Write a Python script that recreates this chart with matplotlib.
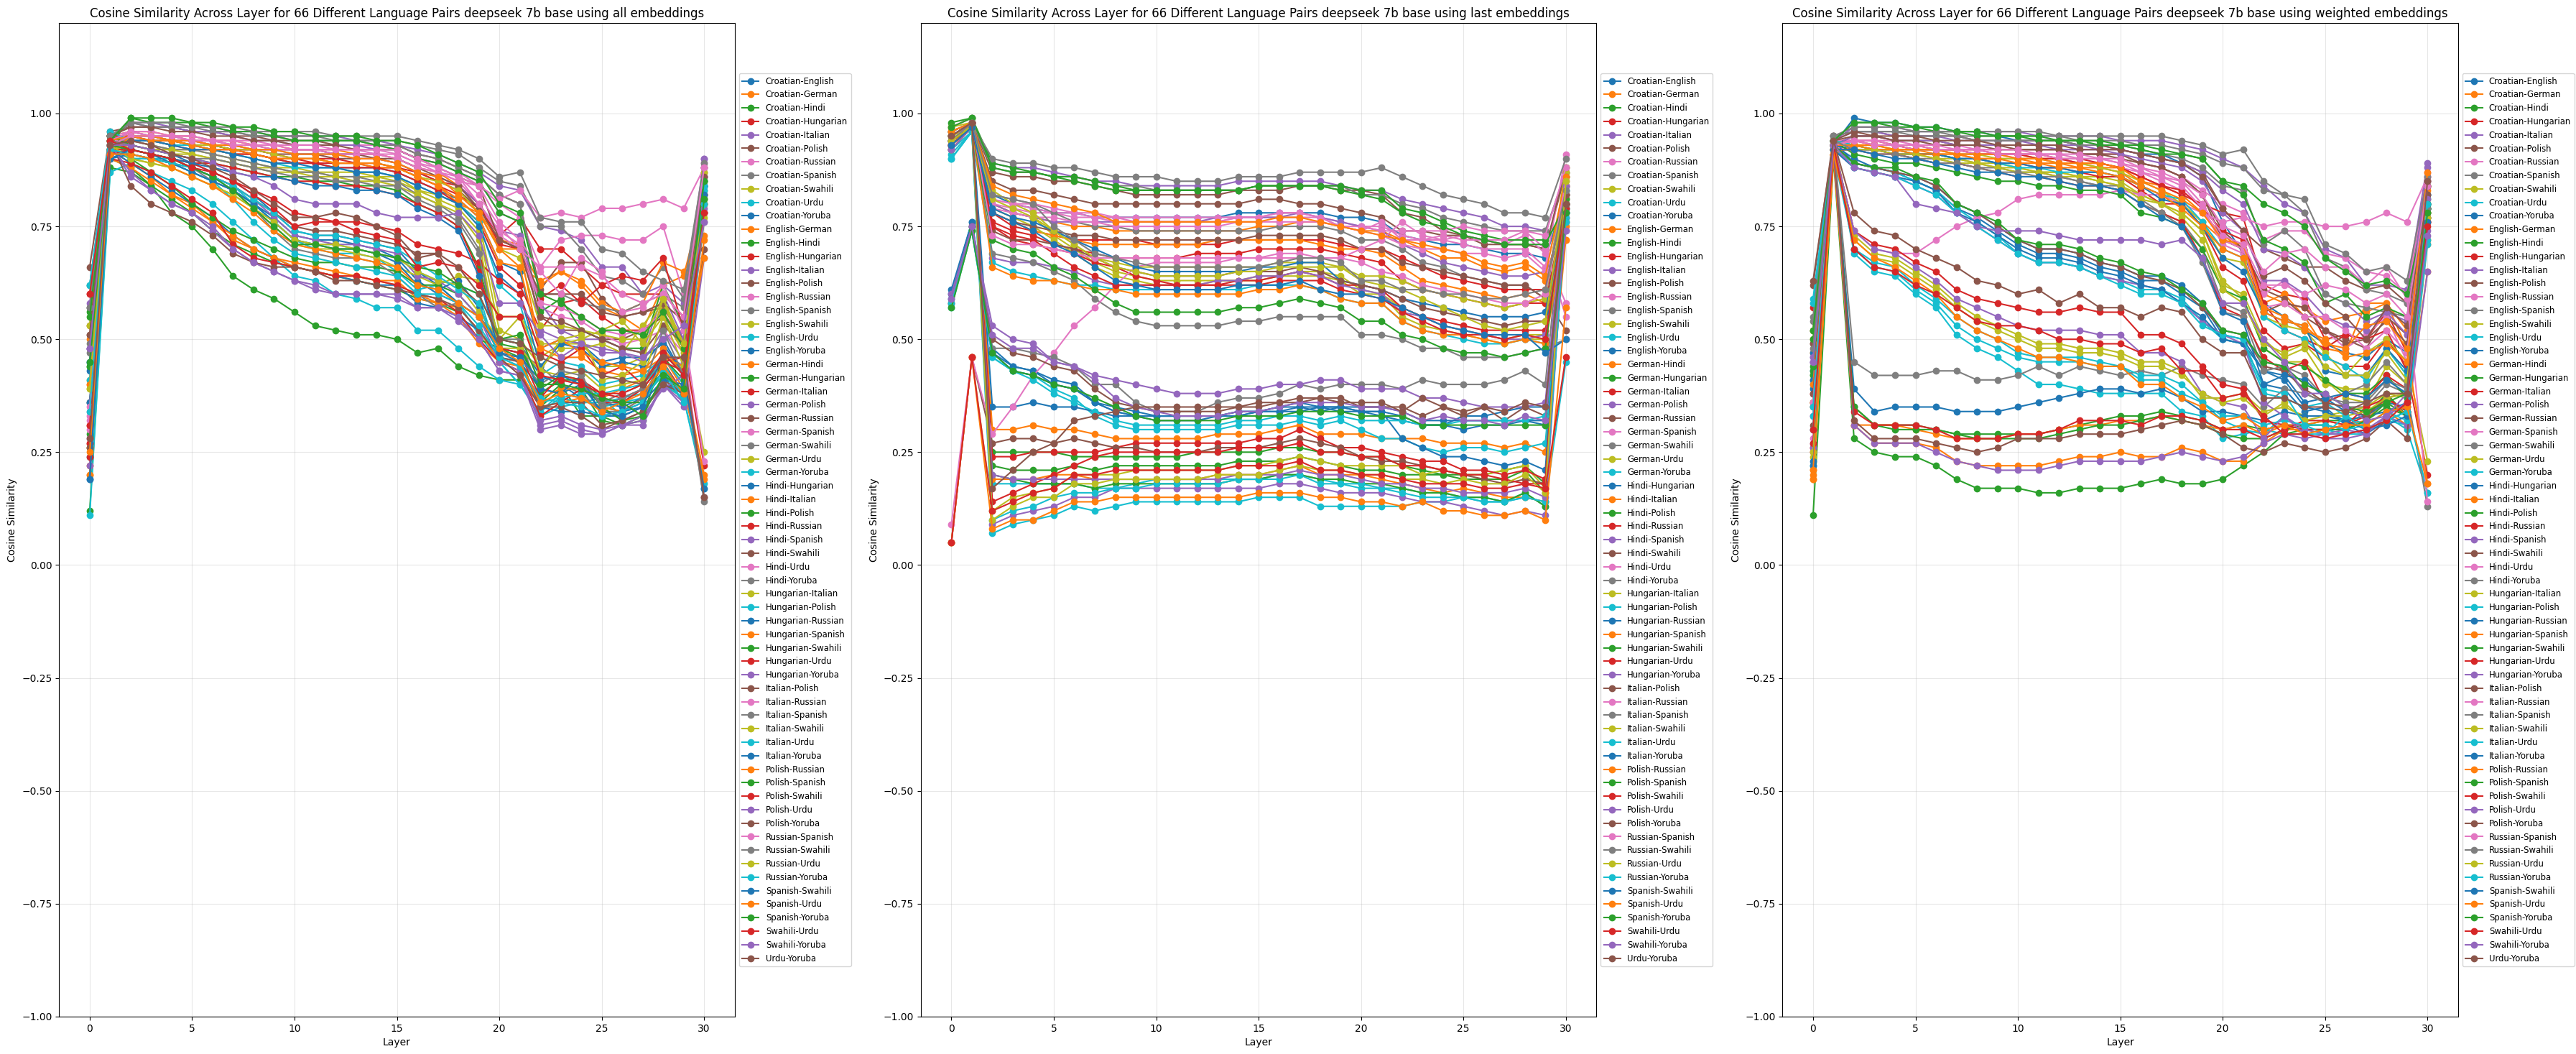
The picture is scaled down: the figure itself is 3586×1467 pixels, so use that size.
import itertools

import numpy as np
import matplotlib
matplotlib.use('Agg')
import matplotlib.pyplot as plt


LANGUAGES = ['Croatian', 'English', 'German', 'Hindi', 'Hungarian', 'Italian',
             'Polish', 'Russian', 'Spanish', 'Swahili', 'Urdu', 'Yoruba']
PAIRS = [f'{a}-{b}' for a, b in itertools.combinations(LANGUAGES, 2)]
LAYERS = list(range(31))
EMBEDDINGS = ['all', 'last', 'weighted']

# cosine similarity x100, one row per pair (same order as PAIRS)
# layout of a row:  L0 L1 | L2..L10 | L11..L20 | L21..L30
SIM_ALL = [
    "45 94 | 95 95 94 93 93 92 91 90 89 | 89 88 88 88 87 85 83 81 77 67 | 65 48 50 49 45 46 46 49 42 86",  # Croatian-English
    "50 95 | 96 96 95 95 94 94 93 93 92 | 92 92 91 91 90 88 87 84 80 70 | 66 63 65 62 57 55 52 62 64 82",  # Croatian-German
    "12 88 | 87 84 78 75 70 64 61 59 56 | 53 52 51 51 50 47 48 44 42 41 | 41 36 40 33 33 31 33 42 38 84",  # Croatian-Hindi
    "31 92 | 95 94 94 93 92 92 91 90 90 | 89 89 89 88 88 86 84 82 79 73 | 77 70 70 66 62 60 60 60 55 87",  # Croatian-Hungarian
    "58 95 | 98 98 97 97 97 96 96 95 95 | 95 95 94 94 93 92 91 89 87 84 | 83 75 74 72 66 66 60 62 58 90",  # Croatian-Italian
    "66 96 | 97 97 97 96 96 95 95 94 94 | 94 93 93 93 93 91 90 88 86 82 | 80 61 67 67 59 55 56 57 50 88",  # Croatian-Polish
    "53 95 | 96 96 95 95 94 94 94 93 93 | 93 93 93 93 92 90 89 87 84 80 | 77 66 72 73 73 72 72 75 60 89",  # Croatian-Russian
    "62 95 | 97 97 97 96 96 96 95 95 95 | 95 94 94 94 94 93 92 91 88 85 | 84 75 75 70 64 63 60 66 59 88",  # Croatian-Spanish
    "53 95 | 94 93 92 92 91 90 89 88 88 | 87 87 87 86 86 83 82 80 76 55 | 55 46 49 49 44 44 46 58 48 25",  # Croatian-Swahili
    "62 95 | 90 90 90 88 86 83 80 76 72 | 70 69 69 68 65 61 62 58 51 45 | 40 34 38 37 35 36 37 42 36 78",  # Croatian-Urdu
    "36 93 | 93 92 91 89 87 85 82 78 74 | 73 73 72 71 70 65 62 58 55 50 | 49 42 40 37 35 34 35 40 39 85",  # Croatian-Yoruba
    "20 91 | 94 94 93 93 92 91 91 90 90 | 90 89 89 88 88 86 84 80 78 72 | 71 62 65 63 58 56 58 67 65 73",  # English-German
    "29 90 | 88 84 81 78 74 71 69 67 66 | 65 64 63 62 61 59 58 56 50 48 | 46 35 39 39 32 31 32 40 37 85",  # English-Hindi
    "27 92 | 94 94 93 92 92 91 91 90 89 | 89 88 88 88 87 85 83 80 76 66 | 62 52 58 59 55 52 52 56 49 22",  # English-Hungarian
    "48 94 | 98 97 97 96 96 95 94 94 93 | 93 93 93 92 92 90 89 87 85 78 | 76 52 50 49 48 47 45 52 45 84",  # English-Italian
    "26 92 | 95 94 94 93 93 92 92 91 91 | 91 90 90 90 89 87 85 83 79 72 | 70 55 52 52 50 50 52 55 50 82",  # English-Polish
    "30 92 | 95 95 94 94 93 93 92 92 92 | 92 91 91 91 90 88 87 85 80 73 | 70 57 55 54 51 49 50 52 47 86",  # English-Russian
    "49 94 | 98 97 97 97 96 96 95 95 94 | 94 94 94 93 93 91 90 88 86 82 | 80 60 60 58 57 56 58 60 57 86",  # English-Spanish
    "41 93 | 93 92 91 91 90 89 88 88 87 | 87 86 86 86 85 83 81 79 74 52 | 50 44 48 48 49 47 53 59 46 80",  # English-Swahili
    "11 87 | 89 87 85 83 80 76 72 68 64 | 63 60 59 57 57 52 52 48 44 41 | 40 33 35 36 37 33 35 40 37 17",  # English-Urdu
    "43 93 | 92 91 89 87 85 83 80 77 73 | 72 72 71 70 68 63 60 58 55 47 | 45 39 38 40 36 35 37 43 38 84",  # English-Yoruba
    "40 92 | 89 86 82 80 76 72 70 68 67 | 66 65 64 63 62 60 58 57 52 45 | 43 35 36 37 35 34 37 44 37 80",  # German-Hindi
    "44 93 | 99 98 98 98 97 96 96 95 94 | 94 94 94 93 92 90 89 87 85 78 | 76 56 59 52 50 48 48 62 53 83",  # German-Hungarian
    "60 95 | 95 95 94 94 93 92 92 91 90 | 90 90 89 89 88 87 85 84 80 71 | 70 59 62 58 62 64 63 68 52 78",  # German-Italian
    "28 92 | 95 95 94 94 93 93 92 92 91 | 91 91 90 90 89 87 86 84 80 74 | 73 58 52 50 50 48 47 60 50 85",  # German-Polish
    "36 93 | 96 95 95 94 94 93 93 92 92 | 92 91 91 90 90 88 86 84 79 72 | 70 60 60 60 56 55 56 58 54 84",  # German-Russian
    "32 93 | 96 95 95 94 94 93 93 92 92 | 92 92 92 91 91 89 87 86 80 74 | 71 58 57 55 52 51 52 56 48 15",  # German-Spanish
    "57 95 | 94 93 92 92 91 90 89 88 87 | 87 86 86 85 85 82 80 77 70 48 | 47 44 40 38 34 34 37 46 40 76",  # German-Swahili
    "53 94 | 90 89 88 86 84 82 79 75 71 | 70 70 69 68 66 64 62 64 63 55 | 55 49 49 50 52 54 49 55 47 81",  # German-Urdu
    "24 91 | 91 90 89 88 86 84 80 76 72 | 71 71 70 69 68 65 63 62 60 45 | 40 34 37 36 36 37 38 44 37 18",  # German-Yoruba
    "45 92 | 89 86 83 80 77 73 70 68 66 | 65 64 63 62 62 58 57 55 52 46 | 45 35 34 34 33 33 35 40 38 84",  # Hindi-Hungarian
    "20 90 | 88 85 82 79 76 73 70 68 66 | 65 64 64 63 63 59 58 55 49 45 | 44 37 39 39 37 39 41 46 39 19",  # Hindi-Italian
    "44 92 | 90 87 84 80 77 74 72 70 68 | 67 67 66 66 65 62 62 60 55 49 | 48 39 42 41 37 36 36 43 38 85",  # Hindi-Polish
    "27 90 | 89 87 84 81 78 71 68 67 66 | 65 64 64 63 62 60 59 56 50 45 | 43 33 36 39 36 36 39 45 38 82",  # Hindi-Russian
    "48 93 | 86 83 80 78 74 70 67 65 63 | 62 60 60 60 60 57 57 55 50 43 | 42 30 31 29 29 31 31 40 35 68",  # Hindi-Spanish
    "51 94 | 84 80 78 76 73 69 67 66 66 | 65 63 63 62 61 60 59 57 52 46 | 45 35 35 33 30 32 34 41 38 70",  # Hindi-Swahili
    "33 93 | 95 95 94 94 93 93 92 92 92 | 92 91 91 91 90 88 87 85 84 81 | 83 77 78 77 79 79 80 81 79 88",  # Hindi-Urdu
    "57 94 | 92 91 90 88 85 83 79 74 70 | 69 68 68 67 64 60 57 58 55 50 | 50 38 41 40 36 38 40 47 44 14",  # Hindi-Yoruba
    "39 93 | 95 95 94 93 93 92 92 91 90 | 90 89 89 89 88 86 85 83 78 70 | 68 53 53 52 51 50 50 59 48 87",  # Hungarian-Italian
    "62 96 | 94 94 93 93 92 91 90 89 88 | 88 88 87 87 86 84 82 80 76 62 | 58 42 45 44 40 41 42 46 40 83",  # Hungarian-Polish
    "36 93 | 94 94 93 92 92 91 90 89 89 | 88 88 87 87 86 84 82 80 75 64 | 60 44 49 48 44 45 44 50 42 84",  # Hungarian-Russian
    "22 91 | 95 94 94 93 92 92 91 90 90 | 90 89 89 89 88 86 84 81 77 67 | 66 48 46 46 43 42 43 46 44 68",  # Hungarian-Spanish
    "56 95 | 93 92 91 90 89 88 87 86 86 | 85 85 84 84 83 80 78 75 66 50 | 49 38 41 41 35 32 33 46 41 81",  # Hungarian-Swahili
    "31 92 | 92 91 90 89 87 85 83 81 78 | 77 76 76 75 74 71 70 69 67 63 | 60 47 45 48 42 44 40 45 46 78",  # Hungarian-Urdu
    "22 91 | 92 91 90 88 86 84 81 77 73 | 72 71 71 70 69 64 63 60 55 45 | 43 31 32 30 29 31 33 39 42 90",  # Hungarian-Yoruba
    "51 95 | 97 97 96 96 95 95 94 94 93 | 93 93 92 92 92 90 88 86 84 72 | 70 55 54 52 50 48 47 53 49 86",  # Italian-Polish
    "35 94 | 96 95 95 95 94 94 93 93 93 | 93 92 92 92 92 90 88 86 84 76 | 72 65 60 68 65 56 57 62 52 23",  # Italian-Russian
    "57 95 | 98 98 98 97 97 97 96 96 96 | 96 95 95 95 95 94 93 92 90 86 | 87 77 76 76 70 69 65 63 61 89",  # Italian-Spanish
    "26 92 | 93 92 92 91 90 89 88 87 87 | 86 86 85 85 84 82 80 78 72 48 | 48 43 42 43 39 40 41 55 44 77",  # Italian-Swahili
    "41 92 | 90 90 89 87 85 81 76 72 69 | 68 67 66 65 64 60 60 58 53 46 | 44 36 37 38 38 39 40 45 37 84",  # Italian-Urdu
    "19 90 | 91 90 89 87 85 83 80 76 72 | 71 70 70 69 67 62 61 63 57 48 | 47 39 38 42 33 34 36 41 40 82",  # Italian-Yoruba
    "40 94 | 95 95 94 94 93 93 92 92 91 | 91 91 90 90 89 87 86 82 78 70 | 70 48 50 47 45 44 43 48 42 20",  # Polish-Russian
    "55 94 | 99 99 99 98 98 97 97 96 96 | 95 95 95 94 94 93 91 89 87 80 | 78 60 58 55 52 52 51 56 48 85",  # Polish-Spanish
    "24 91 | 92 91 90 89 89 88 87 86 85 | 85 84 84 83 82 80 78 75 65 48 | 47 37 42 41 38 37 39 45 43 80",  # Polish-Swahili
    "48 93 | 87 83 80 78 75 70 67 65 63 | 61 60 60 60 59 57 57 54 50 43 | 42 32 33 31 30 31 32 40 36 79",  # Polish-Urdu
    "26 92 | 91 90 89 88 86 84 81 78 75 | 74 74 73 72 71 69 69 62 58 46 | 42 35 36 36 31 32 34 40 38 80",  # Polish-Yoruba
    "34 93 | 95 95 95 94 94 93 93 93 92 | 92 92 92 92 91 89 88 86 82 75 | 70 66 66 66 64 60 58 60 55 88",  # Russian-Spanish
    "47 94 | 93 92 91 90 90 89 88 87 86 | 86 85 85 84 84 81 79 76 69 47 | 46 40 43 42 35 37 39 52 42 15",  # Russian-Swahili
    "39 93 | 90 89 88 86 84 82 79 76 72 | 71 71 70 69 68 65 63 62 56 50 | 55 43 50 51 41 42 45 59 49 80",  # Russian-Urdu
    "34 92 | 91 90 89 88 86 84 81 78 74 | 73 73 72 71 70 67 64 61 58 46 | 44 37 36 35 33 34 36 43 36 80",  # Russian-Yoruba
    "19 90 | 92 91 90 89 88 87 86 86 85 | 84 84 83 83 82 79 77 74 64 47 | 46 41 42 40 34 33 35 47 42 17",  # Spanish-Swahili
    "25 91 | 91 90 88 86 84 81 78 74 71 | 70 69 68 67 66 62 61 58 55 48 | 45 36 38 37 34 36 38 44 38 72",  # Spanish-Urdu
    "45 93 | 92 91 90 88 86 83 79 75 71 | 71 70 70 69 68 66 65 62 60 50 | 51 40 40 39 37 36 33 42 39 81",  # Spanish-Yoruba
    "60 94 | 92 91 90 88 87 85 82 79 75 | 76 76 74 73 72 66 67 66 62 55 | 55 42 41 40 38 38 40 47 42 78",  # Swahili-Urdu
    "48 93 | 93 92 91 90 89 87 86 84 81 | 80 80 80 78 77 77 77 78 73 58 | 58 51 46 49 47 47 46 50 53 76",  # Swahili-Yoruba
    "28 93 | 94 93 91 90 88 86 83 80 77 | 77 78 77 75 73 68 69 66 60 50 | 49 46 44 43 42 41 40 46 46 15",  # Urdu-Yoruba
]

SIM_LAST = [
    "96 98 | 82 80 79 78 78 77 77 77 77 | 77 77 77 78 78 78 78 78 77 77 | 76 73 72 71 71 70 69 69 68 82",  # Croatian-English
    "95 98 | 80 78 77 76 75 75 74 74 74 | 74 74 74 74 75 75 76 76 75 74 | 74 72 70 68 68 66 65 66 63 80",  # Croatian-German
    "96 98 | 25 25 25 25 24 24 24 24 24 | 24 25 25 25 25 26 26 25 25 24 | 24 22 21 20 20 20 21 22 18 80",  # Croatian-Hindi
    "95 98 | 78 75 74 73 72 72 72 72 71 | 71 71 71 72 72 72 72 72 71 70 | 70 68 66 64 63 62 61 61 61 84",  # Croatian-Hungarian
    "93 98 | 89 88 88 87 86 85 85 84 84 | 84 84 84 85 85 85 85 85 84 83 | 83 81 80 79 78 77 75 75 74 86",  # Croatian-Italian
    "96 98 | 87 86 86 85 85 84 83 82 82 | 82 82 82 83 83 83 84 84 83 83 | 82 78 77 74 73 72 71 71 70 87",  # Croatian-Polish
    "97 99 | 81 80 79 78 78 77 77 76 76 | 76 76 76 77 77 77 77 77 76 75 | 75 73 72 72 71 70 70 70 66 91",  # Croatian-Russian
    "96 98 | 88 87 87 86 86 85 84 84 83 | 83 83 83 83 84 84 84 84 84 82 | 82 80 79 77 76 75 74 74 74 87",  # Croatian-Spanish
    "96 98 | 80 78 77 73 70 67 65 64 63 | 63 63 63 63 64 64 65 65 64 61 | 60 57 55 53 52 51 50 51 51 87",  # Croatian-Swahili
    "91 96 | 07 09 10 11 13 12 13 14 14 | 14 14 14 14 15 15 15 13 13 13 | 13 13 14 14 15 14 14 15 14 45",  # Croatian-Urdu
    "61 76 | 48 44 43 41 40 36 34 33 33 | 33 33 33 34 34 35 36 35 35 35 | 35 34 32 32 32 32 32 32 32 81",  # Croatian-Yoruba
    "93 98 | 78 76 74 73 72 71 71 71 71 | 71 71 72 72 72 72 72 71 70 70 | 69 66 63 62 61 60 59 60 58 72",  # English-German
    "95 98 | 22 21 21 21 22 21 22 22 22 | 22 22 22 23 23 23 24 23 22 21 | 21 20 20 20 19 19 19 21 16 79",  # English-Hindi
    "94 98 | 76 74 73 71 70 69 68 68 68 | 68 69 69 69 70 70 70 70 69 68 | 67 63 61 60 59 58 57 58 58 80",  # English-Hungarian
    "92 97 | 80 78 77 76 76 76 76 76 76 | 76 76 77 77 77 77 78 77 76 75 | 74 71 69 67 66 65 64 64 65 74",  # English-Italian
    "95 98 | 85 83 83 82 81 80 80 80 80 | 80 80 80 80 81 81 80 80 79 78 | 77 74 74 73 73 71 71 71 70 88",  # English-Polish
    "95 98 | 80 79 78 78 77 77 76 76 76 | 76 76 76 77 77 78 78 77 75 74 | 76 72 72 73 72 72 71 73 69 58",  # English-Russian
    "95 98 | 82 81 80 78 76 75 75 74 74 | 74 74 74 74 74 75 75 75 74 72 | 72 70 67 66 64 63 62 62 59 84",  # English-Spanish
    "95 98 | 79 77 75 72 69 66 64 63 62 | 62 62 63 63 63 64 64 64 63 60 | 60 55 53 52 51 50 49 50 50 86",  # English-Swahili
    "90 96 | 18 18 18 18 18 17 17 18 19 | 19 19 19 19 19 20 20 19 18 17 | 17 17 16 16 15 15 14 16 13 80",  # English-Urdu
    "60 76 | 47 44 43 40 39 36 34 33 32 | 32 32 33 33 34 34 35 34 35 34 | 34 33 31 31 33 33 34 35 35 79",  # English-Yoruba
    "92 97 | 30 30 31 30 30 29 28 28 28 | 28 28 29 29 29 30 31 29 29 29 | 28 28 28 27 27 27 26 27 25 72",  # German-Hindi
    "98 99 | 89 88 87 86 85 84 83 83 83 | 83 83 83 83 84 84 84 84 84 83 | 83 79 78 76 74 73 72 72 72 78",  # German-Hungarian
    "95 98 | 75 72 71 70 69 67 66 64 63 | 62 62 62 63 63 64 65 64 62 62 | 61 57 55 54 53 52 52 52 52 77",  # German-Italian
    "93 97 | 68 67 67 66 65 63 62 62 62 | 62 62 63 63 64 64 65 64 62 61 | 60 56 55 53 52 51 50 50 51 78",  # German-Polish
    "94 98 | 78 76 75 74 73 73 72 72 72 | 72 72 72 72 73 73 73 73 72 70 | 70 67 66 65 64 63 62 62 59 52",  # German-Russian
    "96 98 | 79 78 77 77 76 76 75 75 75 | 75 75 75 76 76 76 76 76 75 74 | 73 71 70 70 69 69 68 69 65 84",  # German-Spanish
    "93 97 | 69 68 67 65 63 59 56 54 53 | 53 53 53 54 54 55 55 55 55 51 | 51 50 48 48 46 46 46 47 48 50",  # German-Swahili
    "05 46 | 12 15 16 17 20 20 20 21 21 | 21 21 21 22 22 23 24 23 22 22 | 22 22 20 21 20 20 21 22 17 86",  # German-Urdu
    "57 74 | 46 43 42 39 37 33 31 30 30 | 30 30 30 31 31 31 32 31 32 30 | 28 28 26 25 26 26 25 26 27 77",  # German-Yoruba
    "95 98 | 35 35 36 35 35 34 33 33 33 | 33 33 33 34 34 34 34 35 34 34 | 34 28 26 24 24 23 22 23 21 83",  # Hindi-Hungarian
    "93 97 | 19 19 19 20 20 19 19 19 19 | 19 19 20 20 20 21 22 20 20 20 | 19 18 17 16 17 16 15 15 14 81",  # Hindi-Italian
    "94 97 | 20 19 18 18 18 17 18 18 18 | 18 18 18 19 19 20 20 19 19 18 | 18 17 16 16 15 15 14 16 13 81",  # Hindi-Polish
    "94 97 | 24 24 25 25 25 25 26 27 27 | 27 27 27 27 28 28 30 28 26 26 | 25 24 23 23 21 21 20 21 19 79",  # Hindi-Russian
    "93 97 | 09 11 12 13 15 15 17 17 17 | 17 17 17 17 17 18 18 17 16 16 | 16 15 14 14 13 12 11 12 11 80",  # Hindi-Spanish
    "05 46 | 27 28 28 27 28 27 26 26 25 | 25 25 26 26 26 27 28 27 26 24 | 23 23 22 21 20 19 18 19 18 76",  # Hindi-Swahili
    "09 46 | 29 35 42 47 53 57 62 66 67 | 67 67 67 68 68 68 68 68 68 70 | 72 76 73 72 73 72 72 74 70 55",  # Hindi-Urdu
    "58 75 | 48 48 47 46 44 40 40 36 34 | 34 34 36 37 37 38 40 39 40 40 | 40 39 41 40 40 40 41 43 40 86",  # Hindi-Yoruba
    "97 98 | 83 80 78 74 71 68 67 66 66 | 66 66 66 66 66 67 67 67 66 64 | 64 63 61 60 59 58 57 58 59 88",  # Hungarian-Italian
    "90 96 | 67 65 64 63 62 62 61 61 61 | 61 61 61 61 62 62 62 61 59 58 | 58 54 52 51 50 49 49 50 49 83",  # Hungarian-Polish
    "94 98 | 79 77 76 74 72 70 68 66 65 | 65 65 65 65 66 66 67 67 63 62 | 61 59 58 57 56 55 55 55 56 80",  # Hungarian-Russian
    "92 97 | 66 64 63 63 62 61 61 60 60 | 60 60 60 60 61 61 62 61 59 58 | 58 54 52 51 51 50 49 50 49 75",  # Hungarian-Spanish
    "94 97 | 72 70 69 66 64 61 58 56 56 | 56 56 56 57 57 58 59 58 57 54 | 54 51 50 48 47 47 46 47 48 82",  # Hungarian-Swahili
    "93 97 | 14 16 18 20 22 24 25 25 25 | 25 25 25 26 26 26 27 25 25 24 | 24 22 22 21 20 20 19 18 18 82",  # Hungarian-Urdu
    "60 75 | 53 50 49 45 44 42 41 40 39 | 38 38 38 39 39 40 40 41 41 39 | 39 39 37 37 36 35 35 35 36 84",  # Hungarian-Yoruba
    "95 98 | 74 72 72 71 70 68 66 65 64 | 64 64 64 65 65 65 66 65 63 62 | 61 59 57 56 55 54 53 54 54 82",  # Italian-Polish
    "95 98 | 81 80 80 79 78 78 77 77 77 | 77 77 77 77 77 78 78 77 75 75 | 74 74 74 74 75 74 74 74 73 88",  # Italian-Russian
    "95 98 | 90 89 89 88 88 87 86 86 86 | 85 85 85 86 86 86 87 87 87 87 | 88 86 84 82 81 80 78 78 77 90",  # Italian-Spanish
    "95 97 | 81 79 77 74 71 68 66 65 64 | 64 64 64 65 65 66 66 66 66 63 | 62 61 59 57 55 53 52 53 54 84",  # Italian-Swahili
    "92 96 | 10 12 13 15 16 16 17 17 18 | 18 18 18 19 19 19 20 18 18 18 | 17 16 15 15 15 14 14 15 14 78",  # Italian-Urdu
    "59 75 | 47 43 42 40 39 36 35 34 33 | 33 33 33 33 34 35 35 35 35 34 | 33 32 31 31 30 31 31 32 31 78",  # Italian-Yoruba
    "96 98 | 84 82 81 80 79 78 76 76 76 | 76 76 76 76 76 77 77 76 75 74 | 73 72 71 70 69 67 66 67 64 86",  # Polish-Russian
    "97 99 | 88 87 87 86 86 85 84 83 83 | 83 83 83 83 84 84 84 84 83 82 | 81 78 76 75 73 72 71 71 71 80",  # Polish-Spanish
    "93 97 | 75 73 72 69 66 64 62 62 62 | 62 62 62 62 62 63 63 63 61 60 | 59 56 54 52 51 51 50 51 50 80",  # Polish-Swahili
    "92 97 | 20 19 19 19 19 19 19 19 19 | 19 19 19 20 20 20 21 20 20 19 | 18 18 17 17 16 16 16 17 15 84",  # Polish-Urdu
    "58 75 | 50 47 46 44 43 39 36 35 34 | 34 34 34 35 35 36 36 37 37 35 | 35 35 33 35 33 35 32 35 33 80",  # Polish-Yoruba
    "94 98 | 73 71 71 70 69 68 68 68 68 | 68 68 68 68 68 69 69 68 68 67 | 65 64 62 61 60 59 58 58 60 85",  # Russian-Spanish
    "94 98 | 82 81 80 75 72 69 68 67 66 | 66 66 66 66 66 67 68 68 67 63 | 63 61 61 60 60 59 59 60 61 83",  # Russian-Swahili
    "94 97 | 10 13 15 15 18 18 19 19 19 | 19 19 20 20 20 21 22 21 21 20 | 20 19 19 18 19 18 18 20 16 85",  # Russian-Urdu
    "58 74 | 46 43 41 38 36 34 32 31 31 | 31 31 31 32 32 33 33 32 33 32 | 32 32 31 31 32 32 32 32 33 76",  # Russian-Yoruba
    "93 97 | 78 76 74 71 69 66 63 62 61 | 61 61 61 62 62 62 63 61 60 60 | 59 57 55 53 52 51 51 51 47 50",  # Spanish-Swahili
    "05 46 | 08 10 10 12 14 14 15 15 15 | 15 15 15 15 16 16 16 15 15 14 | 14 13 14 12 12 11 11 12 10 57",  # Spanish-Urdu
    "57 74 | 47 43 42 40 39 37 35 33 32 | 32 32 32 33 33 33 34 34 34 33 | 33 33 31 31 31 31 31 31 31 78",  # Spanish-Yoruba
    "05 46 | 12 14 16 17 20 20 21 21 21 | 21 21 21 22 22 22 23 21 21 20 | 20 19 18 18 18 17 17 18 17 46",  # Swahili-Urdu
    "59 75 | 51 48 48 45 44 41 37 35 34 | 33 33 33 34 34 35 36 36 36 35 | 35 34 32 33 32 32 31 33 32 74",  # Swahili-Yoruba
    "95 98 | 17 21 25 27 32 33 34 35 35 | 35 35 35 35 36 36 37 37 36 36 | 36 34 37 35 34 35 34 36 35 80",  # Urdu-Yoruba
]

SIM_WEIGHTED = [
    "43 93 | 99 98 98 97 97 96 96 95 94 | 94 94 93 93 92 91 91 89 86 76 | 69 58 55 52 49 47 46 50 47 82",  # Croatian-English
    "47 94 | 93 93 93 92 92 92 91 91 91 | 90 90 89 88 88 85 84 82 78 73 | 70 60 58 57 54 55 56 58 52 83",  # Croatian-German
    "11 90 | 28 25 24 24 22 19 17 17 17 | 16 16 17 17 17 18 19 18 18 19 | 22 25 29 30 30 30 32 35 33 78",  # Croatian-Hindi
    "57 94 | 94 94 93 93 92 92 92 91 91 | 91 90 90 89 88 86 84 82 80 78 | 77 62 60 59 50 51 50 56 47 76",  # Croatian-Hungarian
    "46 94 | 97 97 97 96 96 96 96 96 96 | 95 95 95 95 94 94 94 93 92 90 | 88 84 80 78 70 68 62 62 61 89",  # Croatian-Italian
    "62 95 | 96 96 95 95 95 95 94 94 94 | 94 94 93 93 92 91 90 89 87 79 | 74 70 68 66 66 63 61 62 58 85",  # Croatian-Polish
    "52 94 | 94 94 94 93 93 93 92 92 92 | 92 92 91 91 91 89 88 86 83 80 | 78 72 74 74 69 68 65 64 60 87",  # Croatian-Russian
    "55 95 | 96 96 96 96 96 95 95 95 95 | 95 95 94 94 94 93 93 92 91 89 | 88 83 82 78 68 66 61 60 58 85",  # Croatian-Spanish
    "50 94 | 93 92 92 91 91 90 89 89 88 | 87 87 86 86 85 82 80 78 74 62 | 60 50 46 48 41 37 36 44 40 79",  # Croatian-Swahili
    "59 94 | 69 65 64 60 57 51 48 46 43 | 40 40 39 38 38 38 38 34 33 28 | 29 30 29 29 29 29 29 33 30 16",  # Croatian-Urdu
    "39 93 | 90 88 87 86 84 80 78 75 72 | 70 70 69 67 66 64 64 62 58 51 | 50 43 42 36 37 34 33 34 36 82",  # Croatian-Yoruba
    "21 92 | 93 92 92 92 91 91 90 90 90 | 89 89 88 88 87 84 82 80 76 72 | 70 58 60 55 48 47 58 58 48 71",  # English-German
    "43 93 | 35 31 31 31 30 29 29 29 29 | 29 30 31 32 33 33 34 33 32 30 | 31 30 31 31 32 32 33 38 33 81",  # English-Hindi
    "25 92 | 92 92 91 91 91 90 90 89 89 | 88 88 87 86 86 83 80 80 75 66 | 63 52 48 49 46 44 44 50 44 79",  # English-Hungarian
    "45 94 | 96 96 95 95 95 94 94 94 94 | 93 93 93 92 92 91 90 89 87 83 | 80 70 69 66 60 58 54 56 54 88",  # English-Italian
    "31 93 | 95 95 94 94 94 93 93 93 92 | 92 92 91 91 91 89 88 86 82 74 | 70 61 59 55 52 50 48 55 51 78",  # English-Polish
    "28 92 | 93 93 92 92 92 91 91 91 90 | 90 90 89 89 88 87 85 83 79 71 | 69 60 63 58 52 48 51 55 45 86",  # English-Russian
    "52 95 | 96 96 96 95 95 95 94 94 94 | 94 94 93 93 93 92 91 90 88 84 | 83 71 74 70 60 58 57 56 55 84",  # English-Spanish
    "36 93 | 93 92 92 91 90 90 89 88 88 | 87 87 86 85 84 82 80 78 74 63 | 59 48 45 45 40 39 39 48 42 80",  # English-Swahili
    "22 91 | 70 66 65 61 58 53 50 48 46 | 45 45 45 44 44 41 41 38 36 32 | 30 29 33 30 30 29 30 32 31 71",  # English-Urdu
    "47 94 | 89 88 87 85 83 79 77 74 71 | 69 69 68 66 65 63 63 60 57 50 | 49 40 39 34 35 31 29 32 34 80",  # English-Yoruba
    "20 91 | 31 31 31 30 29 28 28 28 29 | 29 30 31 31 32 32 33 32 31 30 | 31 29 31 31 32 31 32 37 33 65",  # German-Hindi
    "42 94 | 98 98 97 97 96 96 95 95 95 | 94 94 94 93 93 92 91 91 90 85 | 82 72 70 67 58 60 55 57 55 79",  # German-Hungarian
    "38 93 | 94 93 93 92 92 92 91 91 91 | 90 90 89 89 88 86 84 83 79 74 | 72 58 52 50 48 51 50 52 43 20",  # German-Italian
    "27 93 | 95 95 94 94 94 93 93 93 93 | 93 92 92 92 91 90 89 88 85 78 | 74 63 63 60 55 53 52 56 51 80",  # German-Polish
    "49 94 | 95 95 94 94 93 93 93 92 92 | 92 92 91 91 90 89 88 86 82 72 | 70 56 58 57 52 49 50 54 49 82",  # German-Russian
    "30 92 | 94 93 93 92 92 92 91 91 91 | 91 90 90 90 89 87 86 84 79 72 | 70 57 58 55 55 52 48 52 47 85",  # German-Spanish
    "41 93 | 92 92 91 90 90 89 88 88 87 | 87 86 85 84 84 81 78 76 70 58 | 56 45 44 38 36 35 35 40 38 13",  # German-Swahili
    "52 94 | 73 69 68 65 62 58 55 53 51 | 49 49 48 48 47 45 45 43 37 37 | 38 34 35 33 33 34 35 38 37 78",  # German-Urdu
    "30 92 | 89 88 87 85 83 79 76 73 69 | 67 67 66 64 63 61 61 59 54 50 | 49 38 37 35 36 33 31 34 35 16",  # German-Yoruba
    "40 93 | 39 34 35 35 35 34 34 34 35 | 36 37 38 39 39 38 39 37 34 34 | 33 32 34 33 33 32 33 36 35 80",  # Hindi-Hungarian
    "19 91 | 31 27 27 27 26 23 22 22 22 | 22 23 24 24 25 24 24 26 25 23 | 23 27 30 30 30 31 31 34 31 72",  # Hindi-Italian
    "42 93 | 35 31 30 30 30 29 28 28 28 | 28 29 30 31 31 32 33 32 31 29 | 28 28 30 31 31 30 32 36 33 79",  # Hindi-Polish
    "26 92 | 34 31 31 31 30 28 28 28 29 | 29 30 32 32 32 31 33 33 32 30 | 30 28 30 32 32 31 33 37 34 76",  # Hindi-Russian
    "46 93 | 31 27 27 27 25 23 22 21 21 | 21 22 23 23 23 23 24 25 24 23 | 24 27 29 28 29 29 30 33 31 65",  # Hindi-Spanish
    "49 94 | 32 28 28 28 27 26 25 26 28 | 28 28 29 29 29 30 31 32 31 29 | 26 25 27 26 25 26 28 32 28 84",  # Hindi-Swahili
    "33 93 | 74 70 69 69 72 75 77 78 81 | 82 82 82 82 83 82 82 80 78 76 | 77 75 76 76 75 75 76 78 76 86",  # Hindi-Urdu
    "54 94 | 45 42 42 42 43 43 41 41 42 | 44 42 44 43 42 43 42 44 42 41 | 40 35 39 38 36 38 40 45 40 80",  # Hindi-Yoruba
    "36 93 | 93 93 92 92 92 91 91 90 90 | 90 89 89 88 87 85 83 80 76 68 | 67 55 53 52 47 42 47 50 45 23",  # Hungarian-Italian
    "58 94 | 93 92 92 91 91 90 90 89 88 | 88 87 87 87 86 84 82 81 76 70 | 68 55 52 50 46 44 41 48 42 80",  # Hungarian-Polish
    "41 93 | 92 92 91 91 91 90 90 89 89 | 88 88 87 87 86 84 81 80 75 68 | 65 56 54 53 43 42 42 48 43 77",  # Hungarian-Russian
    "19 91 | 93 92 92 91 91 91 90 90 89 | 89 88 88 87 86 84 82 79 75 70 | 68 56 54 53 49 48 53 54 48 18",  # Hungarian-Spanish
    "52 94 | 91 90 89 89 88 87 86 85 85 | 84 84 83 83 82 78 77 75 70 61 | 59 48 45 44 41 38 38 42 37 79",  # Hungarian-Swahili
    "36 93 | 74 71 70 67 65 61 59 58 57 | 56 56 57 56 56 51 51 49 44 40 | 39 32 31 30 30 31 35 37 34 76",  # Hungarian-Urdu
    "26 92 | 88 87 86 84 82 78 75 72 69 | 67 67 66 64 63 62 61 58 54 51 | 49 36 33 30 29 30 29 33 36 81",  # Hungarian-Yoruba
    "35 94 | 96 95 95 95 94 94 94 93 93 | 93 93 92 92 92 91 90 89 86 79 | 74 64 66 63 58 55 50 57 53 84",  # Italian-Polish
    "33 93 | 94 94 93 93 93 92 92 92 92 | 91 91 91 90 90 88 87 85 82 75 | 73 65 69 70 66 66 62 66 59 14",  # Italian-Russian
    "35 95 | 97 97 97 96 96 96 96 96 96 | 96 95 95 95 95 95 95 94 93 91 | 92 85 82 81 71 69 65 66 63 86",  # Italian-Spanish
    "24 92 | 92 92 91 91 90 89 89 88 87 | 87 86 86 85 84 81 80 77 72 61 | 58 49 47 49 44 42 42 47 41 77",  # Italian-Swahili
    "33 93 | 70 67 66 62 59 55 52 50 47 | 46 46 46 45 44 42 42 40 36 33 | 33 31 32 31 31 30 31 34 32 72",  # Italian-Urdu
    "23 92 | 88 87 86 85 83 78 76 73 70 | 68 68 67 65 64 62 61 58 55 50 | 49 43 41 35 34 32 30 31 33 79",  # Italian-Yoruba
    "40 93 | 93 93 92 92 92 91 91 91 90 | 90 89 89 89 88 85 83 81 78 72 | 71 57 55 52 50 46 47 49 45 87",  # Polish-Russian
    "50 94 | 98 98 98 97 97 96 96 95 95 | 95 94 94 94 93 93 92 91 90 85 | 84 80 78 75 68 65 62 63 60 80",  # Polish-Spanish
    "27 92 | 92 91 91 90 89 89 88 87 86 | 86 85 84 84 83 80 78 76 68 57 | 55 46 43 45 36 38 37 42 39 77",  # Polish-Swahili
    "45 93 | 74 70 69 66 63 59 57 55 53 | 52 52 52 51 51 47 47 45 38 36 | 35 28 33 29 28 28 29 33 36 74",  # Polish-Urdu
    "38 93 | 89 88 87 86 84 80 78 75 72 | 70 70 69 67 66 64 63 61 57 52 | 51 44 43 39 36 35 33 37 38 84",  # Polish-Yoruba
    "36 93 | 94 93 93 93 92 92 92 91 91 | 91 91 90 90 89 88 86 85 80 73 | 71 62 62 60 62 61 58 60 55 84",  # Russian-Spanish
    "48 94 | 92 91 91 90 89 89 88 87 87 | 86 86 85 84 83 80 78 75 67 56 | 55 43 44 42 37 36 36 41 39 79",  # Russian-Swahili
    "25 92 | 72 68 67 64 61 57 54 52 50 | 48 48 47 47 46 44 44 42 38 36 | 37 33 36 32 33 33 34 37 38 77",  # Russian-Urdu
    "35 93 | 88 87 86 84 82 78 75 72 69 | 67 67 66 64 62 60 60 58 53 51 | 50 39 38 31 29 33 30 32 34 80",  # Russian-Yoruba
    "22 92 | 92 91 90 90 89 88 87 87 86 | 86 85 84 84 83 80 77 75 68 56 | 54 40 42 41 37 38 37 41 38 76",  # Spanish-Swahili
    "21 91 | 72 68 66 63 60 55 52 50 48 | 46 46 45 44 44 40 40 37 35 32 | 33 30 31 29 30 31 31 34 35 18",  # Spanish-Urdu
    "44 93 | 89 88 88 86 85 80 78 76 72 | 71 71 70 68 67 65 64 61 58 52 | 51 45 44 40 38 35 34 36 38 78",  # Spanish-Yoruba
    "30 93 | 70 66 65 62 60 57 54 53 53 | 52 50 50 49 49 47 48 43 43 37 | 38 33 29 29 28 29 30 32 36 75",  # Swahili-Urdu
    "45 93 | 88 87 86 80 79 78 75 74 74 | 74 73 72 72 72 72 71 72 68 58 | 58 50 45 38 38 35 32 33 38 73",  # Swahili-Yoruba
    "63 94 | 78 74 73 70 68 66 63 62 60 | 61 58 60 57 57 55 57 56 50 47 | 47 37 37 35 35 34 36 38 38 85",  # Urdu-Yoruba
]


def parse(rows):
    arr = np.array([[int(v) for v in r.replace('|', ' ').split()] for r in rows],
                   dtype=float) / 100.0
    assert arr.shape == (len(PAIRS), len(LAYERS)), arr.shape
    return arr


fig, axes = plt.subplots(1, 3, figsize=(35.87, 14.67), dpi=100)
fig.subplots_adjust(left=0.0229, right=0.954, bottom=0.0355, top=0.978, wspace=0.275)

for ax, emb, rows in zip(axes, EMBEDDINGS, [SIM_ALL, SIM_LAST, SIM_WEIGHTED]):
    sims = parse(rows)
    for pair, vals in zip(PAIRS, sims):
        ax.plot(LAYERS, vals, marker='o', label=pair)
    ax.set_title('Cosine Similarity Across Layer for 66 Different Language Pairs '
                 f'deepseek 7b base using {emb} embeddings')
    ax.set_xlabel('Layer')
    ax.set_ylabel('Cosine Similarity')
    ax.set_ylim(-1, 1.2)
    ax.set_yticks(np.arange(-1, 1.01, 0.25))
    ax.grid(True, alpha=0.3)
    ax.legend(loc='center left', bbox_to_anchor=(1, 0.5), fontsize='small')

fig.savefig('out.png', dpi=100)
